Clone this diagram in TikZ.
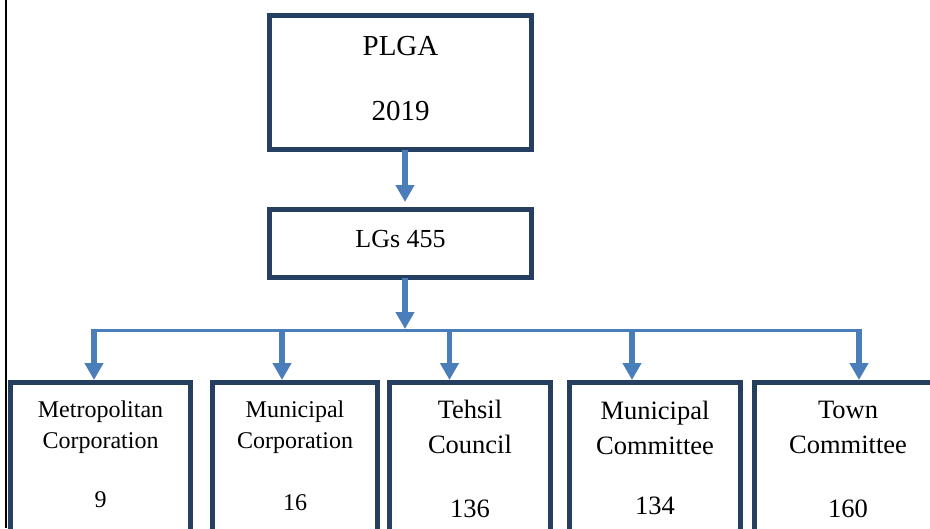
\documentclass[tikz,border=0pt]{standalone}
\usepackage{fontspec}
\setmainfont{Liberation Serif}
\usetikzlibrary{arrows.meta}

\definecolor{boxnavy}{HTML}{243F60}
\definecolor{arrowblue}{HTML}{4A7EBB}

\begin{document}
\begin{tikzpicture}[
    x=1pt, y=-1pt,
    box/.style={rectangle, draw=boxnavy, line width=4.75pt, inner sep=0pt, outer sep=0pt, anchor=north, align=center},
    bigfont/.style={font=\fontsize{29pt}{34pt}\selectfont},
    midfont/.style={font=\fontsize{26pt}{31pt}\selectfont},
    smallfont/.style={font=\fontsize{24pt}{31pt}\selectfont},
    unitfont/.style={font=\fontsize{26.5pt}{35pt}\selectfont},
    arrow/.style={draw=arrowblue, line width=5.5pt, -{Triangle[width=18pt, length=17pt]}},
    busline/.style={draw=arrowblue, line width=3pt},
]

% === CANVAS: pixel grid, y grows downwards ===
\useasboundingbox (0,0) rectangle (930,528);
\clip (0,0) rectangle (930,528);

% page frame on the left
\draw[line width=2pt] (5.7,0) -- (5.7,528);

% Row 0: act (text height = top of box to last baseline)
\node[box, bigfont, minimum width=262pt, text height=104.5pt, text depth=29.5pt] (plga) at (400.5,15.5) {PLGA\\[31pt]2019};

% Row 1: total
\node[box, midfont, minimum width=262pt, text height=37.5pt, text depth=30.5pt] (lgs) at (400.5,209.5) {LGs 455};

% Row 2: types of local governments (cut off at the bottom)
\node[box, smallfont, minimum width=180pt, text height=124.5pt, text depth=35.5pt] (metro)  at (100.5,382.5) {Metropolitan\\Corporation\\[28pt]9};
\node[box, smallfont, minimum width=165pt, text height=127.5pt, text depth=32.5pt] (munc)   at (295,382.5)   {Municipal\\Corporation\\[31pt]16};
\node[box, unitfont,  minimum width=161pt, text height=134.5pt, text depth=25.5pt] (tehsil) at (470,382.5)   {Tehsil\\Council\\[29pt]136};
\node[box, unitfont,  minimum width=171pt, text height=131.5pt, text depth=28.5pt] (mcom)   at (655,382.5)   {Municipal\\Committee\\[25pt]134};
\node[box, unitfont,  minimum width=187pt, text height=134.5pt, text depth=25.5pt] (town)   at (848,382.5)   {Town\\Committee\\[29pt]160};

% =======================================================================
% ARROWS
% =======================================================================
\coordinate (bus)  at (405,330);
\coordinate (busL) at (91.25,330);
\coordinate (busR) at (861.75,330);

% --- (A) act -> total ---
\draw[arrow, shorten >=7.5pt] (plga.south -| bus) -- (lgs.north -| bus);

% --- (B) total -> bus ---
\draw[arrow, shorten >=1pt] (lgs.south -| bus) -- (bus);
\draw[busline] (busL) -- (busR);

% --- (C) bus -> each type ---
\foreach \x/\n in {94/metro, 282/munc, 449.5/tehsil, 632/mcom, 859/town}{
    \coordinate (d\n) at (\x,330);
    \draw[arrow, shorten >=2.5pt] (d\n) -- (d\n |- \n.north);
}

\end{tikzpicture}
\end{document}
